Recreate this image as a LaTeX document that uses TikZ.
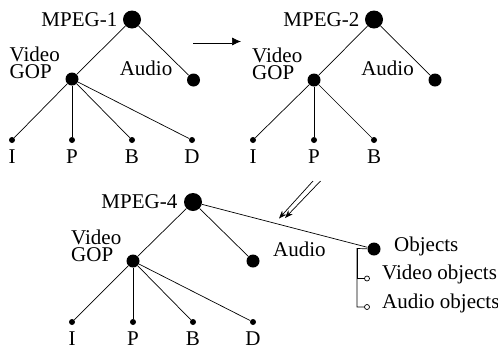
\documentclass[tikz,border=0pt]{standalone}
\usepackage{fontspec}
\setmainfont{Liberation Serif}
\usetikzlibrary{arrows.meta,positioning}
\definecolor{k}{HTML}{000000}
\tikzset{root/.style={circle,fill=k,inner sep=0pt,minimum size=18pt},
  knot/.style={circle,fill=k,inner sep=0pt,minimum size=13pt},
  leaf/.style={circle,fill=k,inner sep=0pt,minimum size=6pt},
  hole/.style={circle,draw=k,fill=white,inner sep=0pt,minimum size=5pt},
  txt/.style={inner sep=0pt,font=\fontsize{21}{17}\selectfont},
  gop/.style={txt,align=left,anchor=east}}

\begin{document}
\begin{tikzpicture}[x=1pt,y=-1pt,line width=0.7pt]
        \useasboundingbox (0,0) rectangle (498,349);
        \node[root] (m1) at (132,19.5) {}; \node[txt,left=5pt of m1] {MPEG-1};
        \node[knot] (v1) at (72,79) {}; \node[gop] at ([xshift=-5pt,yshift=16.5pt]v1.west) {Video\\GOP};
        \node[knot] (a1) at (193.5,80) {}; \node[txt,anchor=east] at ([xshift=-14pt,yshift=11.5pt]a1.west) {Audio};
        \node[leaf] (i1) at (12,140) {}; \node[txt,below=6pt of i1] {I};
        \node[leaf] (p1) at (72,140) {}; \node[txt,below=6pt of p1] {P};
        \node[leaf] (b1) at (132,140) {}; \node[txt,below=6pt of b1] {B};
        \node[leaf] (d1) at (192,140) {}; \node[txt,below=6pt of d1] {D};

        \node[root] (m2) at (374,19.5) {}; \node[txt,left=5pt of m2] {MPEG-2};
        \node[knot] (v2) at (314,80) {}; \node[gop] at ([xshift=-4.5pt,yshift=16.5pt]v2.west) {Video\\GOP};
        \node[knot] (a2) at (435,80) {}; \node[txt,anchor=east] at ([xshift=-14pt,yshift=11.5pt]a2.west) {Audio};
        \node[leaf] (i2) at (253,140) {}; \node[txt,below=6pt of i2] {I};
        \node[leaf] (p2) at (314,140) {}; \node[txt,below=6pt of p2] {P};
        \node[leaf] (b2) at (374,140) {}; \node[txt,below=6pt of b2] {B};

        \node[root] (m3) at (193,202) {}; \node[txt,left=6pt of m3] {MPEG-4};
        \node[knot] (v3) at (133,261) {}; \node[gop] at ([xshift=-4.5pt,yshift=15pt]v3.west) {Video\\GOP};
        \node[knot] (a3) at (253,261) {}; \node[txt,anchor=west] at ([xshift=13pt,yshift=12pt]a3.east) {Audio};
        \node[knot] (o3) at (374,249) {}; \node[txt,anchor=base west] at ([xshift=13pt,yshift=-2.5pt]o3.east) {Objects};
        \node[leaf] (i3) at (72,322) {}; \node[txt,below=6pt of i3] {I};
        \node[leaf] (p3) at (133,322) {}; \node[txt,below=6pt of p3] {P};
        \node[leaf] (b3) at (193,322) {}; \node[txt,below=6pt of b3] {B};
        \node[leaf] (d3) at (253,322) {}; \node[txt,below=6pt of d3] {D};
        \node[hole] (vo) at (367,278.5) {}; \node[txt,anchor=base west] at ([xshift=12pt,yshift=-1pt]vo.east) {Video objects};
        \node[hole] (ao) at (367,307) {}; \node[txt,anchor=base west] at ([xshift=12pt,yshift=-1pt]ao.east) {Audio objects};
        \coordinate (t3) at (357,248.5);

        \draw (m1) -- (v1); \draw (m1) -- (a1);
        \draw (v1) -- (i1); \draw (v1) -- (p1); \draw (v1) -- (b1); \draw (v1) -- (d1);
        \draw (m2) -- (v2); \draw (m2) -- (a2);
        \draw (v2) -- (i2); \draw (v2) -- (p2); \draw (v2) -- (b2);
        \draw (m3) -- (v3); \draw (m3) -- (a3); \draw (m3) -- (o3);
        \draw (v3) -- (i3); \draw (v3) -- (p3); \draw (v3) -- (b3); \draw (v3) -- (d3);
        \draw (o3) -- (t3) |- (ao);
        \draw (t3) |- (vo);

        \coordinate (s1) at (193,41.5); \coordinate (e1) at (241,41.5);
        \draw[double,double distance=2.6pt,-{Latex[length=9pt,width=8pt]}] (s1) -- (e1);
        \coordinate (s2) at (313,181); \coordinate (e2) at (279,218.5);
        \coordinate (s3) at (320.5,181); \coordinate (e3) at (285,218);
        \draw[-{Stealth[length=8pt,width=6pt]}] (s2) -- (e2);
        \draw[-{Stealth[length=8pt,width=6pt]}] (s3) -- (e3);
    
    \end{tikzpicture}
\end{document}
